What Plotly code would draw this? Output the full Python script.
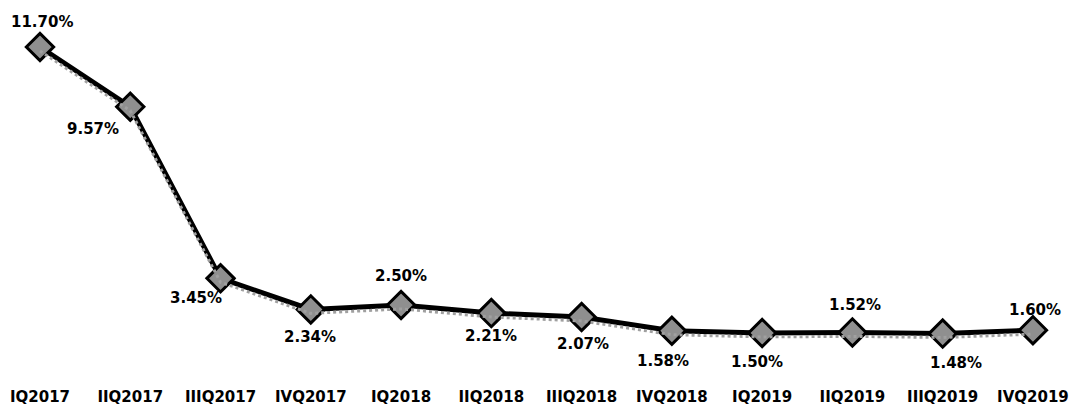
import plotly.graph_objects as go

quarters = ["IQ2017", "IIQ2017", "IIIQ2017", "IVQ2017", "IQ2018", "IIQ2018",
            "IIIQ2018", "IVQ2018", "IQ2019", "IIQ2019", "IIIQ2019", "IVQ2019"]
rates = [11.70, 9.57, 3.45, 2.34, 2.50, 2.21, 2.07, 1.58, 1.50, 1.52, 1.48, 1.60]
labels = ["11.70%", "9.57%", "3.45%", "2.34%", "2.50%", "2.21%", "2.07%",
          "1.58%", "1.50%", "1.52%", "1.48%", "1.60%"]

# label offsets in pixels (style)
label_dx = [2, -37, -25, -1, 0, 0, 1, -9, -5, 3, 13, 2]
label_dy = [25, -22, -20, -28, 29, -23, -27, -30, -29, 27, -29, 20]

font_family = "DejaVu Sans, Verdana, sans-serif"

fig = go.Figure()

# shadow line (offset via a second y-axis with shifted range)
fig.add_trace(go.Scatter(
    x=quarters, y=rates, mode="lines",
    line=dict(color="#a0a0a0", width=3, dash="dot"),
    yaxis="y2", hoverinfo="skip", showlegend=False,
))
# main line
fig.add_trace(go.Scatter(
    x=quarters, y=rates, mode="lines+markers",
    line=dict(color="#000000", width=5),
    marker=dict(symbol="diamond", size=21, color="#8f8f8f",
                line=dict(color="#000000", width=3)),
    showlegend=False,
))

for q, v, t, dx, dy in zip(quarters, rates, labels, label_dx, label_dy):
    fig.add_annotation(x=q, y=v, text=t, showarrow=False,
                       xshift=dx, yshift=dy,
                       font=dict(family=font_family, size=15, color="#000000",
                                 weight="bold"))

ymin, ymax = -0.39, 13.02
fig.update_layout(
    width=1076, height=410,
    margin=dict(l=0, r=0, t=10, b=24),
    paper_bgcolor="white", plot_bgcolor="white",
    xaxis=dict(range=[-0.443, 11.477], showgrid=False, zeroline=False,
               showline=False, ticks="",
               tickfont=dict(family=font_family, size=15, color="#000000",
                             weight="bold")),
    yaxis=dict(range=[ymin, ymax], visible=False),
    yaxis2=dict(range=[ymin + 0.14, ymax + 0.14], overlaying="y", visible=False),
    font=dict(family=font_family),
)

fig.write_html("out.html",
               config={"displayModeBar": False},
               post_script="document.body.style.margin='0';document.body.style.overflow='hidden';")
